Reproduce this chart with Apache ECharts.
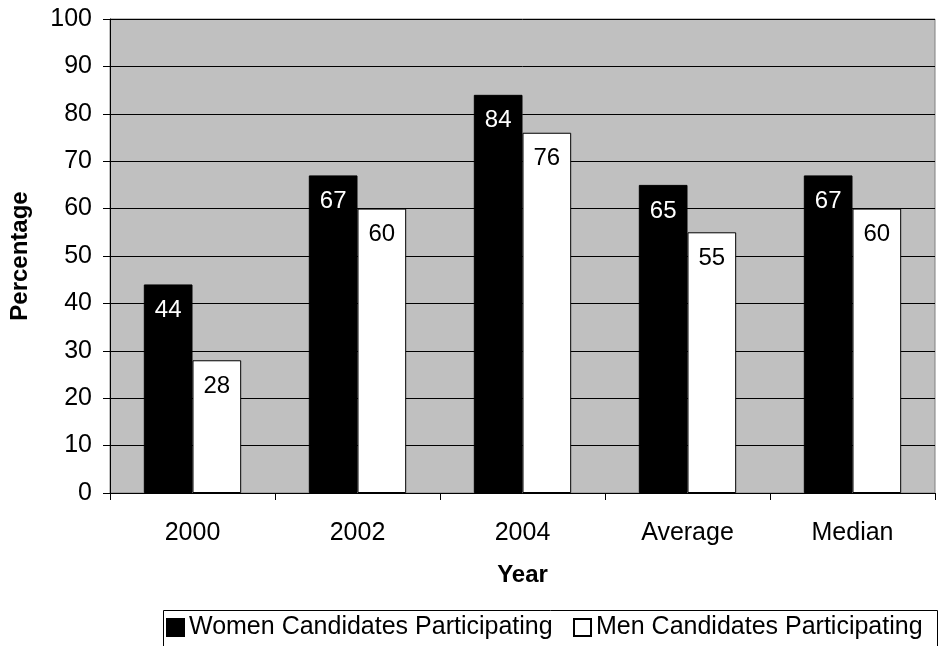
<!DOCTYPE html>
<html>
<head>
<meta charset="utf-8">
<script src="https://cdn.jsdelivr.net/npm/echarts@6/dist/echarts.min.js"></script>
<style>
html,body{margin:0;padding:0;background:#fff;}
#chart{width:938px;height:646px;}
</style>
</head>
<body>
<div id="chart"></div>
<script>
// Participation rates by election year, plus summary columns
const categories = ['2000', '2002', '2004', 'Average', 'Median'];
const womenValues = [44, 67, 84, 65, 67];
const menValues = [28, 60, 76, 55, 60];
const yTicks = { min: 0, max: 100, interval: 10 };
const seriesNames = ['Women Candidates Participating', 'Men Candidates Participating'];

const FONT = 'Liberation Sans, Arial, sans-serif';

const chart = echarts.init(document.getElementById('chart'), null, { renderer: 'canvas' });

const barLabel = (color) => ({
  show: true,
  position: 'insideTop',
  distance: 14,
  color: color,
  fontFamily: FONT,
  fontSize: 24
});

// one legend entry per component so the row never wraps
const legendEntry = (name, left) => ({
  left: left,
  top: 615,
  padding: 0,
  itemWidth: 17,
  itemHeight: 17,
  icon: 'rect',
  textStyle: { fontFamily: FONT, fontSize: 25, color: '#000' },
  data: [name]
});

chart.setOption({
  animation: false,
  backgroundColor: '#ffffff',
  grid: {
    left: 108, right: 3, top: 19, bottom: 153,
    show: true,
    backgroundColor: '#c0c0c0',
    borderColor: '#808080',
    borderWidth: 1
  },
  graphic: [{
    type: 'rect',
    left: 161,
    top: 608,
    shape: { width: 774, height: 60 },
    style: { fill: 'none', stroke: '#000', lineWidth: 1 },
    silent: true
  }],
  legend: [
    legendEntry(seriesNames[0], 166),
    legendEntry(seriesNames[1], 573)
  ],
  xAxis: {
    type: 'category',
    data: categories,
    name: 'Year',
    nameLocation: 'middle',
    nameGap: 70,
    nameTextStyle: { fontFamily: FONT, fontSize: 24, fontWeight: 'bold', color: '#000' },
    axisLine: { lineStyle: { color: '#000', width: 1 } },
    axisTick: { show: true, length: 7, lineStyle: { color: '#000' }, alignWithLabel: false },
    axisLabel: { fontFamily: FONT, fontSize: 25, color: '#000', margin: 28 }
  },
  yAxis: {
    type: 'value',
    min: yTicks.min,
    max: yTicks.max,
    interval: yTicks.interval,
    name: 'Percentage',
    nameLocation: 'middle',
    nameGap: 78,
    nameTextStyle: { fontFamily: FONT, fontSize: 24, fontWeight: 'bold', color: '#000' },
    axisLine: { show: true, lineStyle: { color: '#000', width: 1 } },
    axisTick: { show: true, length: 7, lineStyle: { color: '#000' } },
    axisLabel: { fontFamily: FONT, fontSize: 25, color: '#000', margin: 18 },
    splitLine: { show: true, lineStyle: { color: '#000', width: 1 } }
  },
  series: [
    {
      name: seriesNames[0],
      type: 'bar',
      data: womenValues,
      barGap: '0%',
      barCategoryGap: '41%',
      itemStyle: { color: '#000000', borderColor: '#000', borderWidth: 1 },
      label: barLabel('#ffffff')
    },
    {
      name: seriesNames[1],
      type: 'bar',
      data: menValues,
      barGap: '0%',
      barCategoryGap: '41%',
      itemStyle: { color: '#ffffff', borderColor: '#000', borderWidth: 1 },
      label: barLabel('#000000')
    }
  ]
});
</script>
</body>
</html>
